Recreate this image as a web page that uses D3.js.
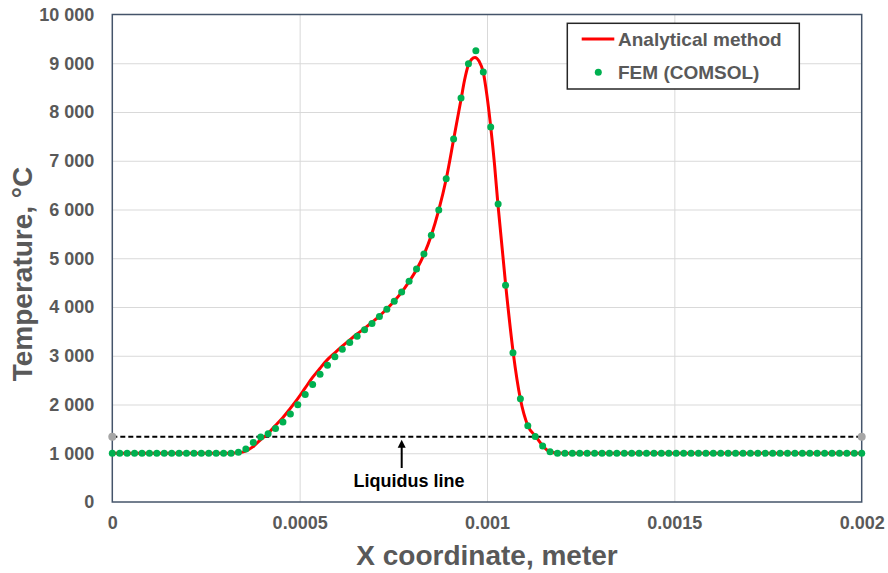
<!DOCTYPE html>
<html>
<head>
<meta charset="utf-8">
<script src="https://cdn.jsdelivr.net/npm/d3@7/dist/d3.min.js"></script>
<style>
  html, body { margin: 0; padding: 0; background: #ffffff; }
  svg { display: block; font-family: Arial, "Liberation Sans", sans-serif; }
</style>
</head>
<body>
<svg id="chart" width="888" height="573"></svg>
<script>
// FEM (COMSOL) nodal temperatures, evenly spaced mesh over 0..0.002 m
const femLength = 0.002;
const femIntervals = 101;
const femT = [
  1000, 1000, 1000, 1000, 1000, 1000, 1000, 1000, 1000, 1000,
  1000, 1000, 1000, 1000, 1000, 1000, 1000,
  1020, 1086, 1223, 1332, 1400, 1510, 1639, 1803, 1994, 2207,
  2412, 2623, 2807, 2977, 3135, 3273, 3402, 3531, 3662, 3805,
  3952, 4116, 4310, 4529, 4781, 5088, 5471, 5990, 6633, 7445,
  8285, 8990, 9256, 8818, 7691, 6114, 4444, 3060, 2117, 1564,
  1346, 1148, 1031,
  1000, 1000, 1000, 1000, 1000, 1000, 1000, 1000, 1000, 1000,
  1000, 1000, 1000, 1000, 1000, 1000, 1000, 1000, 1000, 1000,
  1000, 1000, 1000, 1000, 1000, 1000, 1000, 1000, 1000, 1000,
  1000, 1000, 1000, 1000, 1000, 1000, 1000, 1000, 1000, 1000,
  1000, 1000
];
const femX = femT.map((_, i) => i * femLength / femIntervals);

// Analytical solution, sampled along the coordinate
const anaX = [
  0, 0.000314, 0.000335, 0.000354, 0.000375, 0.000394, 0.000415, 0.000434,
  0.000455, 0.000474, 0.000494, 0.000514, 0.000534, 0.000554, 0.000573,
  0.000594, 0.000613, 0.000633, 0.000652, 0.000673, 0.000692, 0.000712,
  0.000731, 0.000751, 0.000772, 0.000792, 0.000812, 0.000832, 0.000851,
  0.000871, 0.000891, 0.000911, 0.000931, 0.000940, 0.000950, 0.000959,
  0.000968, 0.000979, 0.000990, 0.001000, 0.001010, 0.001020, 0.001029,
  0.001050, 0.001070, 0.001089, 0.001109, 0.001130, 0.001149, 0.001168,
  0.001188, 0.001210, 0.002
];
const anaT = [
  1000, 1000, 1008, 1040, 1130, 1265, 1400, 1560,
  1730, 1910, 2110, 2330, 2550, 2740, 2910,
  3060, 3190, 3320, 3440, 3560, 3680, 3810,
  3950, 4110, 4300, 4520, 4770, 5080, 5460,
  5980, 6620, 7440, 8270, 8650, 8960, 9080,
  9120, 9040, 8818, 8330, 7690, 6930, 6120,
  4440, 3060, 2117, 1564, 1346, 1150, 1030,
  1003, 1000, 1000
];

// Liquidus temperature and its horizontal extent
const liquidusT = 1340;
const liquidusX = [0, 0.002];

// Axis ticks
const xTicks = [0, 0.0005, 0.001, 0.0015, 0.002];
const xTickLabels = ["0", "0.0005", "0.001", "0.0015", "0.002"];
const yTicks = [0, 1000, 2000, 3000, 4000, 5000, 6000, 7000, 8000, 9000, 10000];
const yTickLabels = ["0", "1 000", "2 000", "3 000", "4 000", "5 000", "6 000", "7 000", "8 000", "9 000", "10 000"];

const seriesNames = ["Analytical method", "FEM (COMSOL)"];

const plot = { left: 112.3, right: 861.7, top: 14.5, bottom: 502 };
const svg = d3.select("#chart");

const x = d3.scaleLinear().domain([0, 0.002]).range([plot.left, plot.right]);
const y = d3.scaleLinear().domain([0, 10000]).range([plot.bottom, plot.top]);

const labelGray = "#595959";

// Gridlines
svg.append("g")
  .attr("transform", `translate(${plot.left},0)`)
  .call(d3.axisLeft(y).tickValues(yTicks.slice(1, -1)).tickSize(-(plot.right - plot.left)).tickFormat(""))
  .call(g => g.select(".domain").remove())
  .call(g => g.selectAll("line").attr("stroke", "#d9d9d9").attr("stroke-width", 1));

svg.append("g")
  .attr("transform", `translate(0,${plot.bottom})`)
  .call(d3.axisBottom(x).tickValues(xTicks.slice(1, -1)).tickSize(-(plot.bottom - plot.top)).tickFormat(""))
  .call(g => g.select(".domain").remove())
  .call(g => g.selectAll("line").attr("stroke", "#d9d9d9").attr("stroke-width", 1));

// Tick labels
svg.append("g")
  .attr("transform", `translate(${plot.left},0)`)
  .call(d3.axisLeft(y).tickValues(yTicks).tickSize(0).tickPadding(18)
    .tickFormat((d, i) => yTickLabels[i]))
  .call(g => g.select(".domain").remove())
  .call(g => g.selectAll("text")
    .attr("fill", labelGray).attr("font-size", 18).attr("font-weight", "bold")
    .attr("font-family", "Arial, 'Liberation Sans', sans-serif"));

svg.append("g")
  .attr("transform", `translate(0,${plot.bottom})`)
  .call(d3.axisBottom(x).tickValues(xTicks).tickSize(0).tickPadding(14)
    .tickFormat((d, i) => xTickLabels[i]))
  .call(g => g.select(".domain").remove())
  .call(g => g.selectAll("text")
    .attr("fill", labelGray).attr("font-size", 18).attr("font-weight", "bold")
    .attr("font-family", "Arial, 'Liberation Sans', sans-serif"));

// Plot frame
svg.append("rect")
  .attr("x", plot.left).attr("y", plot.top)
  .attr("width", plot.right - plot.left).attr("height", plot.bottom - plot.top)
  .attr("fill", "none").attr("stroke", "#44546A").attr("stroke-width", 1.5);

// Liquidus line
svg.append("line")
  .attr("x1", x(liquidusX[0])).attr("x2", x(liquidusX[1]))
  .attr("y1", y(liquidusT)).attr("y2", y(liquidusT))
  .attr("stroke", "#000").attr("stroke-width", 2).attr("stroke-dasharray", "5,3");

// Analytical curve
const line = d3.line().x(d => x(d[0])).y(d => y(d[1])).curve(d3.curveMonotoneX);
svg.append("path")
  .datum(anaX.map((v, i) => [v, anaT[i]]))
  .attr("d", line)
  .attr("fill", "none").attr("stroke", "#ff0000").attr("stroke-width", 3)
  .attr("stroke-linejoin", "round");

// FEM points
svg.append("g").selectAll("circle")
  .data(femX.map((v, i) => [v, femT[i]]))
  .join("circle")
  .attr("cx", d => x(d[0])).attr("cy", d => y(d[1]))
  .attr("r", 3.5).attr("fill", "#00b050");

// Liquidus end markers
svg.append("g").selectAll("circle")
  .data(liquidusX)
  .join("circle")
  .attr("cx", d => x(d)).attr("cy", y(liquidusT))
  .attr("r", 4).attr("fill", "#a6a6a6");

// Annotation arrow
const arrowX = 401.7;
svg.append("line")
  .attr("x1", arrowX).attr("x2", arrowX)
  .attr("y1", 468).attr("y2", 446)
  .attr("stroke", "#000").attr("stroke-width", 2);
svg.append("path")
  .attr("d", `M${arrowX},${y(liquidusT) + 3} l-4,8 l8,0 z`)
  .attr("fill", "#000");
svg.append("text")
  .attr("x", 409).attr("y", 487)
  .attr("text-anchor", "middle")
  .attr("font-size", 18).attr("font-weight", "bold").attr("fill", "#000")
  .text("Liquidus line");

// Axis titles
svg.append("text")
  .attr("x", (plot.left + plot.right) / 2).attr("y", 565)
  .attr("text-anchor", "middle")
  .attr("font-size", 28).attr("font-weight", "bold").attr("fill", labelGray)
  .text("X coordinate, meter");

svg.append("text")
  .attr("transform", "translate(32,274) rotate(-90)")
  .attr("text-anchor", "middle")
  .attr("font-size", 28).attr("font-weight", "bold").attr("fill", labelGray)
  .text("Temperature, °C");

// Legend
const legend = svg.append("g");
legend.append("rect")
  .attr("x", 567.3).attr("y", 23.3).attr("width", 232).attr("height", 65.7)
  .attr("fill", "#fff").attr("stroke", "#262626").attr("stroke-width", 1.5);
legend.append("line")
  .attr("x1", 581.7).attr("x2", 614.3).attr("y1", 39).attr("y2", 39)
  .attr("stroke", "#ff0000").attr("stroke-width", 3);
legend.append("circle")
  .attr("cx", 598.3).attr("cy", 72.3).attr("r", 3.5).attr("fill", "#00b050");
legend.selectAll("text.lg")
  .data(seriesNames)
  .join("text")
  .attr("class", "lg")
  .attr("x", 618).attr("y", (d, i) => [39, 72.3][i])
  .attr("dy", "0.35em")
  .attr("font-size", 19).attr("font-weight", "bold").attr("fill", labelGray)
  .text(d => d);
</script>
</body>
</html>
